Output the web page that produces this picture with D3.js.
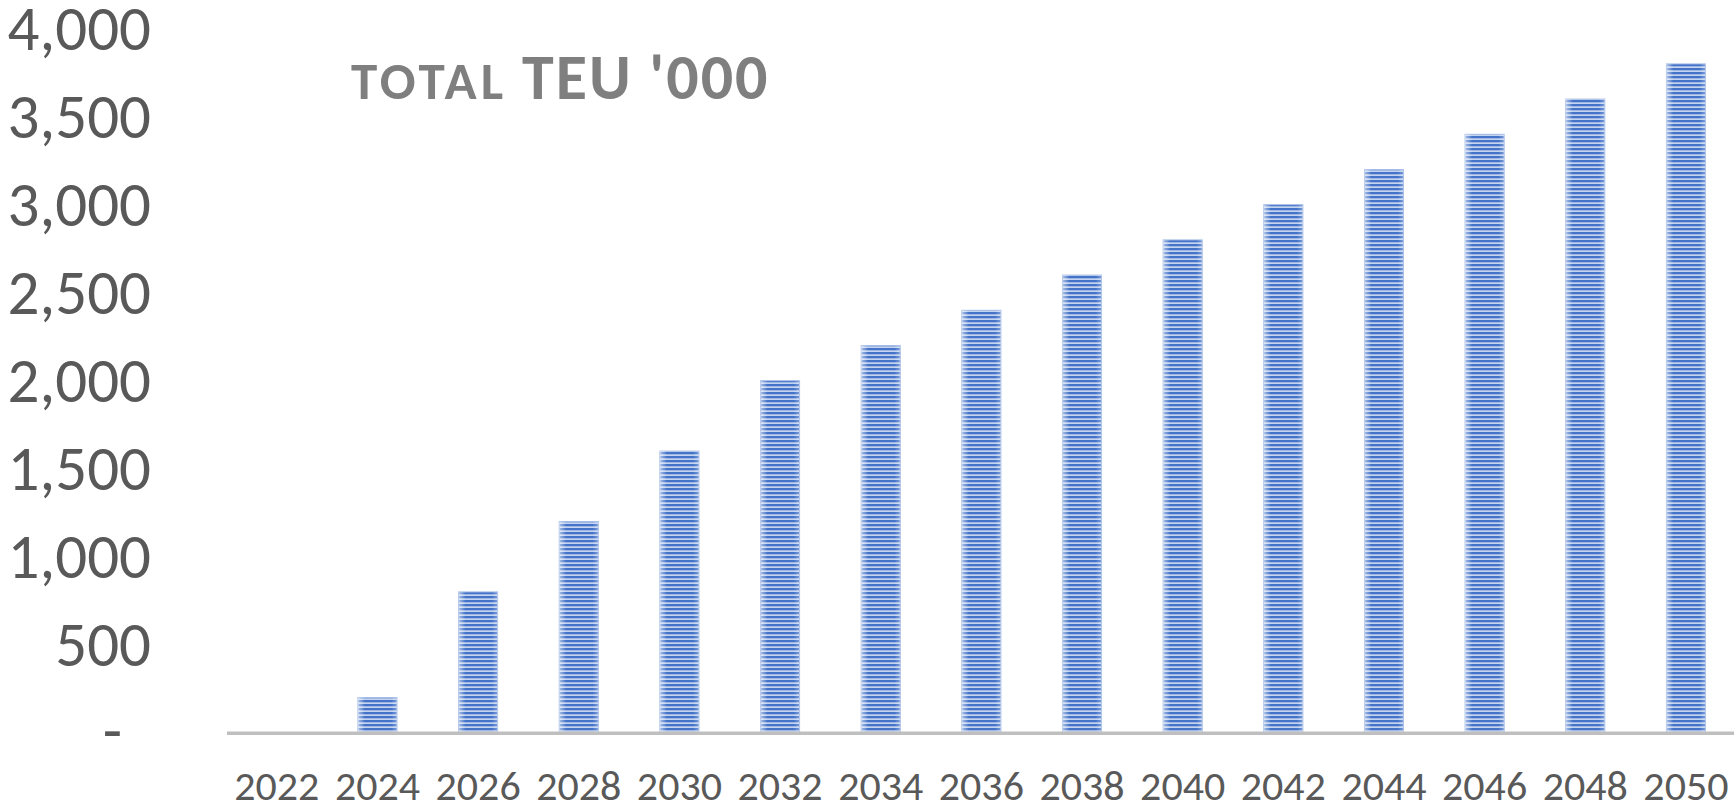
<!DOCTYPE html>
<html>
<head>
<meta charset="utf-8">
<script src="https://cdn.jsdelivr.net/npm/d3@7"></script>
<style>
  html, body { margin: 0; padding: 0; background: #fff; }
  svg { display: block; }
  .ylab text, .xlab text { fill: #595959; font-family: Calibri, Carlito, "Open Sans", sans-serif; }
</style>
</head>
<body>
<div id="chart" width="1734" height="807"></div>
<script>
// Total TEU ('000) by year, bar chart with horizontal stripe fill
var years = ["2022", "2024", "2026", "2028", "2030", "2032", "2034", "2036",
             "2038", "2040", "2042", "2044", "2046", "2048", "2050"];
var teu = [0, 200, 800, 1200, 1600, 2000, 2200, 2400, 2600, 2800, 3000, 3200, 3400, 3600, 3800];
var yTicks = [0, 500, 1000, 1500, 2000, 2500, 3000, 3500, 4000];
var titleSmall = "TOTAL";
var titleBig = "TEU '000";

function bar_chart(div_id) {
    "use strict";

    var div = d3.select(div_id),
        width = +div.attr("width"),
        height = +div.attr("height"),
        step = 100.65,
        left = 226.5,
        top = 28.7,
        base = 732.7;

    var svg = div.append("svg")
                 .attr("width", width)
                 .attr("height", height);

    var x = d3.scaleBand()
        .domain(years)
        .range([left, left + step * years.length])
        .paddingInner(0.6125)
        .paddingOuter(0.30625);

    var y = d3.scaleLinear()
        .domain([0, 4000])
        .range([base, top]);

    // stripe pattern + soft side shading like the office fill
    var defs = svg.append("defs");
    var pat = defs.append("pattern")
        .attr("id", "stripes")
        .attr("patternUnits", "userSpaceOnUse")
        .attr("width", 8).attr("height", 4);
    pat.append("rect").attr("width", 8).attr("height", 4).attr("fill", "#c3d3f0");
    pat.append("rect").attr("width", 8).attr("height", 2.3).attr("fill", "#4473c8");

    var grad = defs.append("linearGradient")
        .attr("id", "shade")
        .attr("x1", 0).attr("x2", 1).attr("y1", 0).attr("y2", 0);
    grad.append("stop").attr("offset", "0%").attr("stop-color", "#fff").attr("stop-opacity", 0.55);
    grad.append("stop").attr("offset", "18%").attr("stop-color", "#fff").attr("stop-opacity", 0);
    grad.append("stop").attr("offset", "85%").attr("stop-color", "#fff").attr("stop-opacity", 0);
    grad.append("stop").attr("offset", "100%").attr("stop-color", "#fff").attr("stop-opacity", 0.3);

    var bars = svg.append("g").attr("class", "bars")
        .selectAll("g")
        .data(years.map(function(d, i) { return {year: d, value: teu[i]}; })
                   .filter(function(d) { return d.value > 0; }))
        .enter().append("g");

    bars.append("rect")
        .attr("x", function(d) { return x(d.year); })
        .attr("y", function(d) { return y(d.value); })
        .attr("width", x.bandwidth())
        .attr("height", function(d) { return y(0) - y(d.value); })
        .attr("fill", "url(#stripes)")
        .attr("stroke", "#a3bbe6")
        .attr("stroke-width", 1);

    bars.append("rect")
        .attr("x", function(d) { return x(d.year); })
        .attr("y", function(d) { return y(d.value); })
        .attr("width", x.bandwidth())
        .attr("height", function(d) { return y(0) - y(d.value); })
        .attr("fill", "url(#shade)");

    // x axis: grey base line + year labels
    var xAxis = svg.append("g")
        .attr("class", "xlab")
        .attr("transform", "translate(0," + base + ")")
        .call(d3.axisBottom(x).tickSize(0).tickSizeOuter(0));
    xAxis.select(".domain")
        .attr("stroke", "#bfbfbf")
        .attr("stroke-width", 3.6);
    xAxis.selectAll("text")
        .attr("y", 67)
        .attr("dy", null)
        .style("font-size", "42px");

    // y axis: labels only, accounting style dash for zero
    var yAxis = svg.append("g")
        .attr("class", "ylab")
        .attr("transform", "translate(151,0)")
        .call(d3.axisLeft(y)
            .tickValues(yTicks)
            .tickSize(0)
            .tickPadding(0)
            .tickFormat(function(d) { return d === 0 ? "-" : d3.format(",")(d); }));
    yAxis.select(".domain").remove();
    yAxis.selectAll("text")
        .attr("dy", "0.33em")
        .style("font-size", "63px")
        .filter(function(d) { return d === 0; })
        .attr("x", -29)
        .attr("dy", "0.3em");

    // title
    var title = svg.append("text")
        .attr("x", 351)
        .attr("y", 99.3)
        .attr("fill", "#7f7f7f")
        .style("font-family", "Calibri, Carlito, 'Open Sans', sans-serif")
        .style("font-weight", "bold");
    title.append("tspan")
        .style("font-size", "53px")
        .style("letter-spacing", "4px")
        .text(titleSmall);
    title.append("tspan")
        .style("font-size", "64px")
        .style("letter-spacing", "2px")
        .attr("dx", 15)
        .text(titleBig);
}

bar_chart("#chart");
</script>
</body>
</html>
